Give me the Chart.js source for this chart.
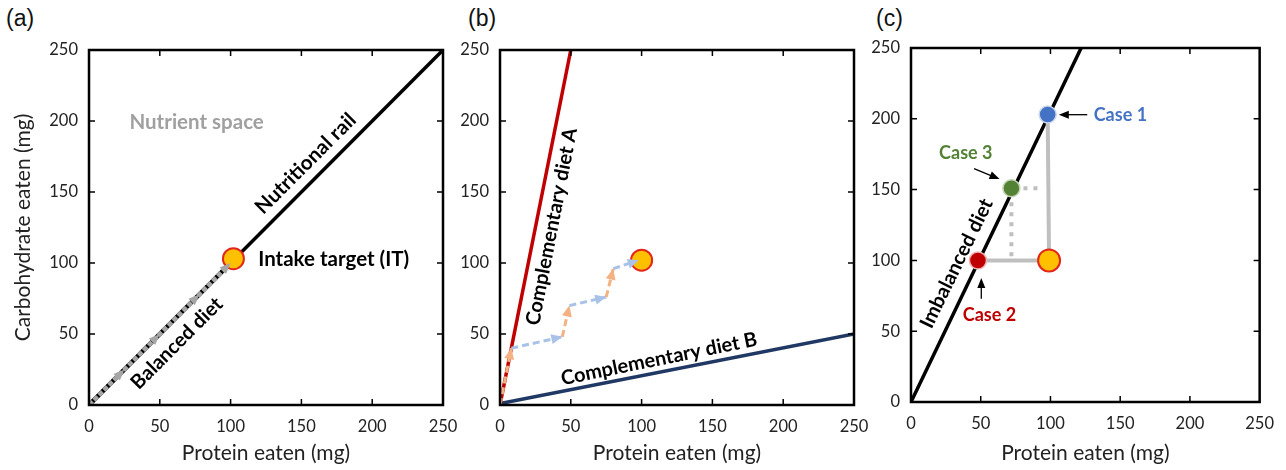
<!DOCTYPE html>
<html><head><meta charset="utf-8">
<script src="https://cdn.jsdelivr.net/npm/chart.js@4/dist/chart.umd.min.js"></script>
<style>
html,body{margin:0;padding:0;background:#fff;}
body{width:1286px;height:470px;position:relative;overflow:hidden;}
canvas{position:absolute;top:0;}
.lbl{position:absolute;top:5px;font:23px "Liberation Sans",Arial,sans-serif;color:#111;}
</style></head><body>
<div class="lbl" style="left:6px">(a)</div>
<div class="lbl" style="left:468px">(b)</div>
<div class="lbl" style="left:876px">(c)</div>
<canvas id="ca" width="470" height="470" style="left:0px"></canvas>
<canvas id="cb" width="440" height="470" style="left:445px"></canvas>
<canvas id="cc" width="420" height="470" style="left:866px"></canvas>
<script>
// ---------- data ----------
const tickValues = [0, 50, 100, 150, 200, 250];
const innerTickValues = [50, 100, 150, 200];
const xTitle = 'Protein eaten (mg)';
const yTitle = 'Carbohydrate eaten (mg)';

// panel (a)
const railProtein = [0, 250];
const railCarb = [0, 250];
const balancedProtein = [0, 100];
const balancedCarb = [0, 100];
const balancedArrowValues = [25, 50, 78, 100];
const targetAProtein = [102];
const targetACarb = [103];

// panel (b)
const dietAProtein = [0, 50];
const dietACarb = [0, 250];
const dietBProtein = [0, 250];
const dietBCarb = [1, 50];
const mixProtein = [0, 8, 44, 49, 75, 80, 98];
const mixCarb = [0, 40, 48, 70, 76, 96, 102];
const targetBProtein = [100];
const targetBCarb = [102];

// panel (c)
const imbalancedProtein = [0, 122];
const imbalancedCarb = [0, 250];
const caseNames = ['Case 1', 'Case 2', 'Case 3'];
const caseProtein = [98, 48, 72];
const caseCarb = [203, 100, 151];
const targetCProtein = [99];
const targetCCarb = [100];
const case3DotProtein = [72, 72, 95];
const case3DotCarb = [103, 151, 151];

// ---------- helpers ----------
const FONT = 'Lato';
const pts = (xs, ys) => xs.map((x, i) => ({x, y: ys[i]}));
const PEACH = '#F4B183', LIGHTBLUE = '#A9C2E8';

function arrowHead(ctx, fx, fy, tx, ty, len, wid, color) {
  const ang = Math.atan2(ty - fy, tx - fx);
  ctx.save(); ctx.translate(tx, ty); ctx.rotate(ang);
  ctx.beginPath(); ctx.moveTo(0, 0); ctx.lineTo(-len, wid / 2); ctx.lineTo(-len, -wid / 2); ctx.closePath();
  ctx.fillStyle = color; ctx.fill(); ctx.restore();
}

function scales(yWidth, xHeight, showYTitle) {
  return {
    x: {
      type: 'linear', min: 0, max: 250,
      afterBuildTicks: s => { s.ticks = tickValues.map(v => ({value: v})); },
      ticks: {font: {family: FONT, size: 16.5}, color: '#222', padding: 12, maxRotation: 0},
      grid: {display: false, drawTicks: false}, border: {display: false},
      title: {display: true, text: xTitle, font: {family: FONT, size: 21}, color: '#222', padding: {top: 0, bottom: 4}},
      afterFit: s => { s.height = xHeight; }
    },
    y: {
      type: 'linear', min: 0, max: 250,
      afterBuildTicks: s => { s.ticks = tickValues.map(v => ({value: v})); },
      ticks: {font: {family: FONT, size: 16.5}, color: '#222', padding: 11},
      grid: {display: false, drawTicks: false}, border: {display: false},
      title: {display: showYTitle, text: yTitle, font: {family: FONT, size: 21}, color: '#222', padding: {top: 11, bottom: 0}},
      afterFit: s => { s.width = yWidth; }
    }
  };
}

const framePlugin = {
  id: 'frame',
  afterDraw(chart) {
    const {ctx, chartArea: a, scales: {x, y}} = chart;
    ctx.save();
    ctx.strokeStyle = '#000'; ctx.lineWidth = 1.5;
    ctx.beginPath();
    innerTickValues.forEach(v => {
      const px = x.getPixelForValue(v), py = y.getPixelForValue(v);
      ctx.moveTo(px, a.bottom); ctx.lineTo(px, a.bottom - 6);
      ctx.moveTo(px, a.top); ctx.lineTo(px, a.top + 6);
      ctx.moveTo(a.left, py); ctx.lineTo(a.left + 6, py);
      ctx.moveTo(a.right, py); ctx.lineTo(a.right - 6, py);
    });
    ctx.stroke();
    ctx.lineWidth = 2.5;
    ctx.strokeRect(a.left, a.top, a.right - a.left, a.bottom - a.top);
    ctx.restore();
  }
};

// annotations: {text, x, y, rot(deg), color, size, align}
function annotationPlugin(texts, arrows) {
  return {
    id: 'annot',
    afterDraw(chart) {
      const {ctx, scales: {x, y}} = chart;
      ctx.save();
      (arrows || []).forEach(ar => {
        const fx = x.getPixelForValue(ar.from[0]), fy = y.getPixelForValue(ar.from[1]);
        const tx = x.getPixelForValue(ar.to[0]), ty = y.getPixelForValue(ar.to[1]);
        const ang = Math.atan2(ty - fy, tx - fx);
        ctx.strokeStyle = '#000'; ctx.lineWidth = 1.3;
        ctx.beginPath(); ctx.moveTo(fx, fy); ctx.lineTo(tx - 8 * Math.cos(ang), ty - 8 * Math.sin(ang)); ctx.stroke();
        arrowHead(ctx, fx, fy, tx, ty, 10, 8, '#000');
      });
      texts.forEach(t => {
        ctx.save();
        ctx.translate(x.getPixelForValue(t.x), y.getPixelForValue(t.y));
        ctx.rotate((t.rot || 0) * Math.PI / 180);
        ctx.font = 'bold ' + t.size + 'px ' + FONT;
        ctx.fillStyle = t.color; ctx.textAlign = t.align || 'center'; ctx.textBaseline = 'middle';
        ctx.fillText(t.text, 0, 0);
        ctx.restore();
      });
      ctx.restore();
    }
  };
}

const base = (pad) => ({
  responsive: false, animation: false, devicePixelRatio: 1,
  layout: {padding: pad},
  plugins: {legend: {display: false}, tooltip: {enabled: false}}
});

const lineDs = (data, color, width, extra) => Object.assign({
  type: 'line', data, borderColor: color, borderWidth: width, pointRadius: 0, fill: false, tension: 0
}, extra || {});

const targetDs = (xs, ys, r) => ({
  type: 'scatter', data: pts(xs, ys), pointRadius: r, pointHoverRadius: r,
  backgroundColor: '#FFC000', borderColor: '#E3261C', borderWidth: 2, order: 0
});

// ---------- panel (a) ----------
const balancedArrows = {
  id: 'balArrows',
  afterDatasetsDraw(chart) {
    const {ctx, scales: {x, y}} = chart;
    balancedArrowValues.forEach(v => {
      arrowHead(ctx, x.getPixelForValue(v - 5), y.getPixelForValue(v - 5),
        x.getPixelForValue(v), y.getPixelForValue(v), 11, 9, '#A6A6A6');
    });
  }
};
new Chart(document.getElementById('ca'), {
  data: {datasets: [
    targetDs(targetAProtein, targetACarb, 10.5),
    lineDs(pts(balancedProtein, balancedCarb), '#A6A6A6', 4.5, {borderDash: [5, 2], order: 1}),
    lineDs(pts(balancedProtein, balancedCarb), '#000', 4.5, {order: 2}),
    lineDs(pts(railProtein, railCarb), '#000', 3.5, {order: 3})
  ]},
  options: Object.assign(base({left: 0, top: 50, right: 27, bottom: 0}), {scales: scales(89, 65, true)}),
  plugins: [balancedArrows, framePlugin, annotationPlugin([
    {text: 'Nutrient space', x: 76, y: 199, color: '#A0A0A0', size: 20.5},
    {text: 'Nutritional rail', x: 153, y: 170, rot: -45, color: '#000', size: 20.5},
    {text: 'Intake target (IT)', x: 119.5, y: 102.6, color: '#000', size: 20.5, align: 'left'},
    {text: 'Balanced diet', x: 62, y: 43.4, rot: -45, color: '#000', size: 20}
  ])]
});

// ---------- panel (b) ----------
const mixArrows = {
  id: 'mixArrows',
  afterDatasetsDraw(chart) {
    const {ctx, scales: {x, y}} = chart;
    for (let i = 1; i < mixProtein.length; i++) {
      arrowHead(ctx, x.getPixelForValue(mixProtein[i - 1]), y.getPixelForValue(mixCarb[i - 1]),
        x.getPixelForValue(mixProtein[i]), y.getPixelForValue(mixCarb[i]), 11, 10, i % 2 ? PEACH : LIGHTBLUE);
    }
  }
};
new Chart(document.getElementById('cb'), {
  data: {datasets: [
    targetDs(targetBProtein, targetBCarb, 10.5),
    lineDs(pts(mixProtein, mixCarb), PEACH, 3, {borderDash: [7, 4], order: 1,
      segment: {borderColor: c => c.p0DataIndex % 2 ? LIGHTBLUE : PEACH}}),
    lineDs(pts(dietAProtein, dietACarb), '#C00000', 3.5, {order: 2}),
    lineDs(pts(dietBProtein, dietBCarb), '#203864', 3.5, {order: 3})
  ]},
  options: Object.assign(base({left: 0, top: 50, right: 31, bottom: 0}), {scales: scales(55, 65, false)}),
  plugins: [mixArrows, framePlugin, annotationPlugin([
    {text: 'Complementary diet A', x: 36.5, y: 125.6, rot: -79, color: '#000', size: 20},
    {text: 'Complementary diet B', x: 112.3, y: 32.4, rot: -11.5, color: '#000', size: 20}
  ])]
});

// ---------- panel (c) ----------
const caseColors = ['#4472C4', '#C00000', '#548235'];
const caseHalo = ['#C9D6EE', '#EBB3B3', '#C5D6B8'];
const gPath = pts([caseProtein[1], targetCProtein[0], caseProtein[0]], [caseCarb[1], targetCCarb[0], caseCarb[0]]);
new Chart(document.getElementById('cc'), {
  data: {datasets: [
    targetDs(targetCProtein, targetCCarb, 11),
    {type: 'scatter', data: pts(caseProtein, caseCarb), pointRadius: 8.5, pointHoverRadius: 8.5,
      backgroundColor: caseColors, borderColor: caseHalo, borderWidth: 1.5, order: 1},
    lineDs(gPath, '#BFBFBF', 4, {order: 2}),
    lineDs(pts(case3DotProtein, case3DotCarb), '#BFBFBF', 4, {borderDash: [4, 6], order: 3}),
    lineDs(pts(imbalancedProtein, imbalancedCarb), '#000', 3.5, {order: 4})
  ]},
  options: Object.assign(base({left: 0, top: 48, right: 21, bottom: 0}), {scales: scales(45, 68, false)}),
  plugins: [framePlugin, annotationPlugin([
    {text: 'Imbalanced diet', x: 32.7, y: 97.9, rot: -64, color: '#000', size: 20},
    {text: caseNames[0], x: 131, y: 202.9, color: caseColors[0], size: 18},
    {text: caseNames[1], x: 56.3, y: 61.4, color: caseColors[1], size: 18},
    {text: caseNames[2], x: 39.3, y: 175.6, color: caseColors[2], size: 18}
  ].map(t => t.text === caseNames[0] ? Object.assign(t, {align: 'left'}) : t), [
    {from: [126.4, 202.9], to: [106, 202.9]},
    {from: [45.2, 164.8], to: [63.5, 157.4]},
    {from: [50.4, 73], to: [50.4, 87.5]}
  ])]
});
</script>
</body></html>
